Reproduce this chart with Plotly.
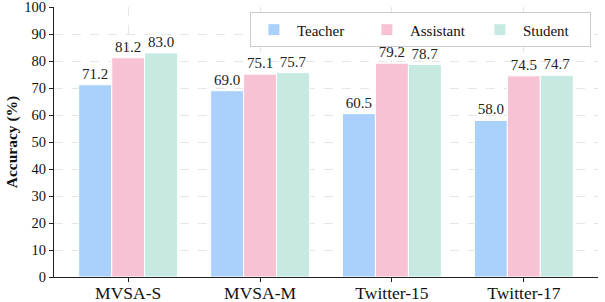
import plotly.graph_objects as go

categories = ["MVSA-S", "MVSA-M", "Twitter-15", "Twitter-17"]
teacher = [71.2, 69.0, 60.5, 58.0]
assistant = [81.2, 75.1, 79.2, 74.5]
student = [83.0, 75.7, 78.7, 74.7]
series_names = ["Teacher", "Assistant", "Student"]
colors = ["#A9D1FC", "#F7C3D4", "#C6E9E1"]

SERIF = "Liberation Serif, Times New Roman, Times, serif"

fig = go.Figure()
for name, vals, col in zip(series_names, [teacher, assistant, student], colors):
    fig.add_trace(go.Bar(
        name=name, x=categories, y=vals,
        marker=dict(color=col, line=dict(color="white", width=1)),
        texttemplate="%{y:.1f}", textposition="outside",
        textfont=dict(family=SERIF, size=15, color="#222"),
        cliponaxis=False,
    ))

fig.update_layout(
    width=605, height=302,
    margin=dict(l=54, r=7, t=7, b=25),
    paper_bgcolor="white", plot_bgcolor="white",
    barmode="group", bargap=0.25, bargroupgap=0,
    font=dict(family=SERIF, color="#111"),
    legend=dict(
        orientation="h", x=0.987, xanchor="right", y=0.98, yanchor="top",
        bordercolor="#CCCCCC", borderwidth=1, bgcolor="rgba(255,255,255,0.9)",
        font=dict(family=SERIF, size=15, color="#111"),
        itemwidth=36, entrywidth=62,
    ),
    xaxis=dict(
        type="category", range=[-0.5625, 3.5625], automargin=False,
        showline=True, linecolor="#222", linewidth=1.2,
        ticks="outside", ticklen=4, tickcolor="#222",
        ticklabelstandoff=-4,
        tickfont=dict(family=SERIF, size=17.5, color="#111"),
        showgrid=True, gridcolor="#E6E6E6", griddash="dash", gridwidth=1,
    ),
    yaxis=dict(
        range=[0, 100], tickvals=list(range(0, 101, 10)), automargin=False,
        ticklabeloverflow="allow",
        showline=True, linecolor="#222", linewidth=1.2,
        ticks="outside", ticklen=4, tickcolor="#222",
        tickfont=dict(family=SERIF, size=14.5, color="#111"),
        showgrid=True, gridcolor="#E6E6E6", griddash="dash", gridwidth=1,
        zeroline=False,
        title=dict(text="<b>Accuracy (%)</b>", standoff=2,
                   font=dict(family=SERIF, size=15.5, color="#111")),
    ),
)

fig.write_html(
    "out.html",
    config={"displayModeBar": False},
    post_script="document.body.style.margin='0';document.body.style.overflow='hidden';",
)
